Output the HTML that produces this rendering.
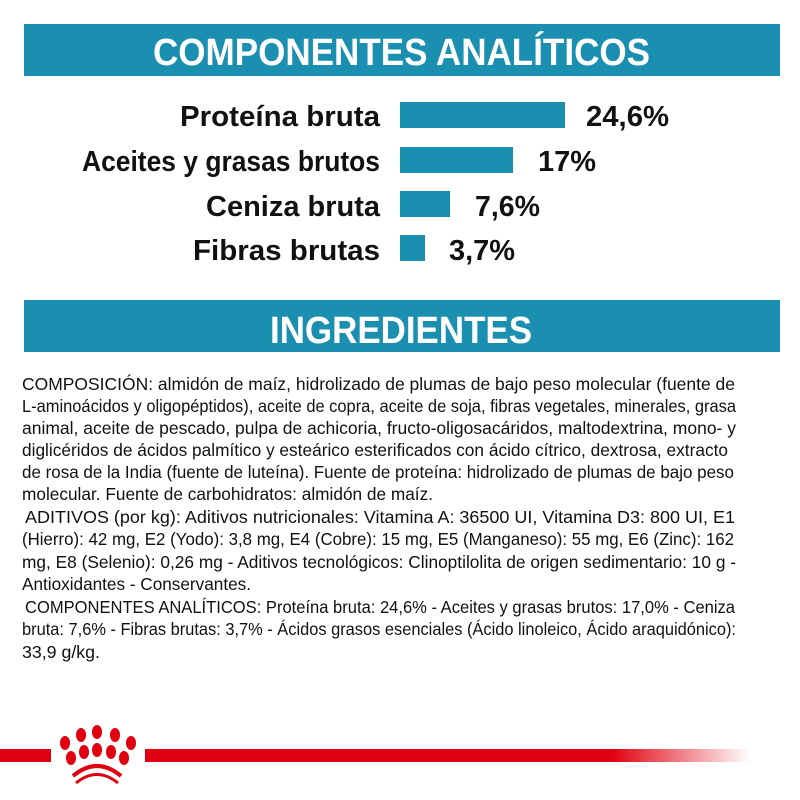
<!DOCTYPE html>
<html><head><meta charset="utf-8"><style>
html,body{margin:0;padding:0;background:#fff;width:800px;height:800px;overflow:hidden}
svg{display:block}
.h{font-family:"Liberation Sans",sans-serif;font-weight:bold;fill:#fff}
.l{font-family:"Liberation Sans",sans-serif;font-weight:bold;fill:#111}
.t{font-family:"Liberation Sans",sans-serif;font-size:17.5px;fill:#111}
</style></head><body>
<svg width="800" height="800" viewBox="0 0 800 800" xmlns="http://www.w3.org/2000/svg">
<defs><linearGradient id="g" x1="0" x2="1"><stop offset="0" stop-color="#e1000f"/><stop offset="0.77" stop-color="#e1000f"/><stop offset="1" stop-color="#e1000f" stop-opacity="0"/></linearGradient></defs>
<rect x="24" y="24" width="756" height="52" fill="#1b8fb0"/>
<text class="h" x="153" y="65" font-size="38" textLength="497" lengthAdjust="spacingAndGlyphs">COMPONENTES ANALÍTICOS</text>
<rect x="400" y="102" width="165" height="26" fill="#1b8fb0"/>
<rect x="400" y="147" width="113" height="26" fill="#1b8fb0"/>
<rect x="400" y="191" width="50" height="26" fill="#1b8fb0"/>
<rect x="400" y="235" width="25" height="26" fill="#1b8fb0"/>
<text class="l" x="180" y="126" font-size="29" textLength="200" lengthAdjust="spacingAndGlyphs">Proteína bruta</text>
<text class="l" x="82" y="171" font-size="29" textLength="298" lengthAdjust="spacingAndGlyphs">Aceites y grasas brutos</text>
<text class="l" x="206" y="216" font-size="29" textLength="174" lengthAdjust="spacingAndGlyphs">Ceniza bruta</text>
<text class="l" x="193" y="260" font-size="29" textLength="187" lengthAdjust="spacingAndGlyphs">Fibras brutas</text>
<text class="l" x="586" y="126" font-size="29" textLength="83" lengthAdjust="spacingAndGlyphs">24,6%</text>
<text class="l" x="538" y="171" font-size="29" textLength="58" lengthAdjust="spacingAndGlyphs">17%</text>
<text class="l" x="475" y="216" font-size="29" textLength="65" lengthAdjust="spacingAndGlyphs">7,6%</text>
<text class="l" x="449" y="260" font-size="29" textLength="66" lengthAdjust="spacingAndGlyphs">3,7%</text>
<rect x="24" y="300" width="756" height="52" fill="#1b8fb0"/>
<text class="h" x="270" y="343" font-size="38" textLength="262" lengthAdjust="spacingAndGlyphs">INGREDIENTES</text>
<g class="t">
<text x="22" y="390" textLength="713" lengthAdjust="spacingAndGlyphs">COMPOSICIÓN: almidón de maíz, hidrolizado de plumas de bajo peso molecular (fuente de</text>
<text x="22" y="412" textLength="714" lengthAdjust="spacingAndGlyphs">L-aminoácidos y oligopéptidos), aceite de copra, aceite de soja, fibras vegetales, minerales, grasa</text>
<text x="22" y="434" textLength="714" lengthAdjust="spacingAndGlyphs">animal, aceite de pescado, pulpa de achicoria, fructo-oligosacáridos, maltodextrina, mono- y</text>
<text x="22" y="456" textLength="706" lengthAdjust="spacingAndGlyphs">diglicéridos de ácidos palmítico y esteárico esterificados con ácido cítrico, dextrosa, extracto</text>
<text x="22" y="478" textLength="712" lengthAdjust="spacingAndGlyphs">de rosa de la India (fuente de luteína). Fuente de proteína: hidrolizado de plumas de bajo peso</text>
<text x="22" y="500" textLength="411" lengthAdjust="spacingAndGlyphs">molecular. Fuente de carbohidratos: almidón de maíz.</text>
<text x="25" y="523" textLength="710" lengthAdjust="spacingAndGlyphs">ADITIVOS (por kg): Aditivos nutricionales: Vitamina A: 36500 UI, Vitamina D3: 800 UI, E1</text>
<text x="22" y="545" textLength="712" lengthAdjust="spacingAndGlyphs">(Hierro): 42 mg, E2 (Yodo): 3,8 mg, E4 (Cobre): 15 mg, E5 (Manganeso): 55 mg, E6 (Zinc): 162</text>
<text x="22" y="568" textLength="714" lengthAdjust="spacingAndGlyphs">mg, E8 (Selenio): 0,26 mg - Aditivos tecnológicos: Clinoptilolita de origen sedimentario: 10 g -</text>
<text x="22" y="590" textLength="229" lengthAdjust="spacingAndGlyphs">Antioxidantes - Conservantes.</text>
<text x="25" y="613" textLength="710" lengthAdjust="spacingAndGlyphs">COMPONENTES ANALÍTICOS: Proteína bruta: 24,6% - Aceites y grasas brutos: 17,0% - Ceniza</text>
<text x="22" y="635" textLength="714" lengthAdjust="spacingAndGlyphs">bruta: 7,6% - Fibras brutas: 3,7% - Ácidos grasos esenciales (Ácido linoleico, Ácido araquidónico):</text>
<text x="22" y="658" textLength="78" lengthAdjust="spacingAndGlyphs">33,9 g/kg.</text>
</g>
<rect x="0" y="749" width="51" height="13" fill="#e1000f"/>
<rect x="145" y="749" width="605" height="13" fill="url(#g)"/>
<g fill="#e1000f">
<ellipse cx="65" cy="743" rx="5" ry="7"/>
<ellipse cx="81" cy="735" rx="5" ry="7"/>
<ellipse cx="97" cy="732" rx="5" ry="7"/>
<ellipse cx="115" cy="735" rx="5" ry="7"/>
<ellipse cx="131" cy="743" rx="5" ry="7"/>
<ellipse cx="71" cy="758" rx="5" ry="7"/>
<ellipse cx="84" cy="752" rx="5" ry="7"/>
<ellipse cx="97" cy="750" rx="5" ry="7"/>
<ellipse cx="111" cy="752" rx="5" ry="7"/>
<ellipse cx="124" cy="758" rx="5" ry="7"/>
<path d="M73 776 Q97 756 121 776" stroke="#e1000f" stroke-width="4" fill="none"/>
<path d="M76 783 Q97 766 118 783" stroke="#e1000f" stroke-width="3" fill="none"/>
</g>
</svg>
</body></html>
